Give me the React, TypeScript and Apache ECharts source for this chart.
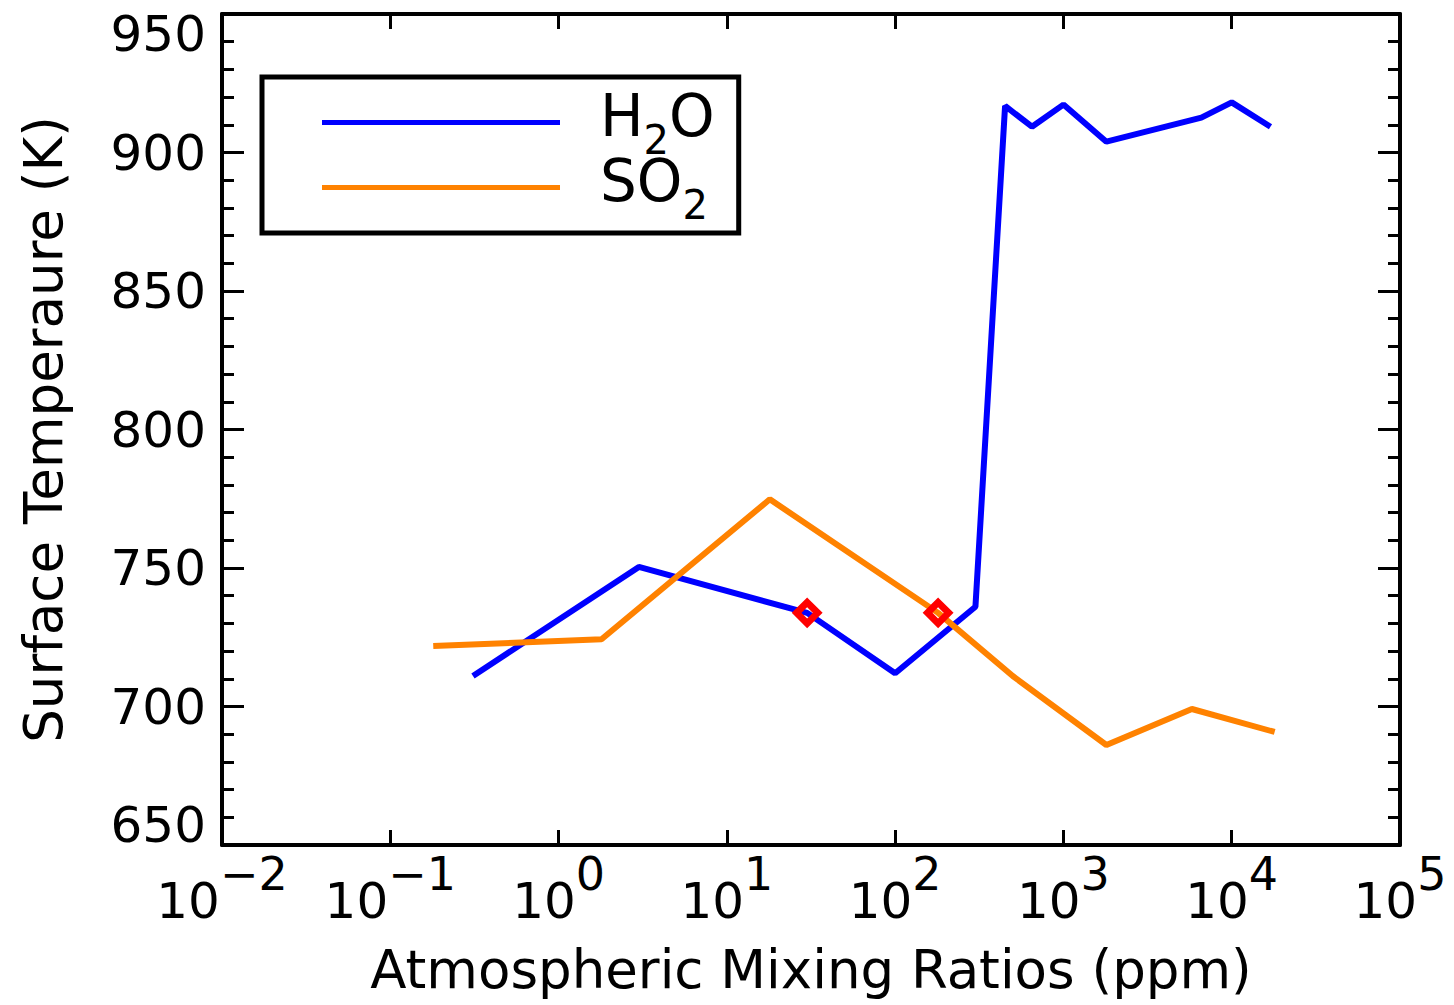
import React, { useEffect, useRef } from "react";
import * as echarts from "echarts";

// ---- data ----
const h2oX = [0.31, 3.0, 30, 100, 300, 450, 650, 1000, 1800, 6600, 10000, 17000];
const h2oY = [711, 750.4, 733.8, 712, 736, 916.8, 909.3, 917.3, 903.9, 912.6, 918.1, 909.3];

const so2X = [0.18, 1.8, 18, 180, 500, 1800, 5800, 18000];
const so2Y = [721.8, 724.3, 774.8, 733.8, 711, 686.1, 699.1, 690.8];

const markerX = [30, 180];
const markerY = [733.8, 733.8];

const seriesNames = ["H2O", "SO2"];
const xTitle = "Atmospheric Mixing Ratios (ppm)";
const yTitle = "Surface Temperaure (K)";
const yMin = 650;
const yMax = 950;
const yStep = 50;
const xMin = 0.01;
const xMax = 100000;

const FONT = "DejaVu Sans";

const pairs = (xs: number[], ys: number[]) => xs.map((x, i) => [x, ys[i]]);

export default function App() {
  const ref = useRef<HTMLDivElement>(null);

  useEffect(() => {
    document.body.style.margin = "0";
    if (!ref.current) return;
    const chart = echarts.init(ref.current, null, { renderer: "svg" });

    const xLabelFormatter = (v: number) => {
      const e = Math.round(Math.log10(v));
      const s = e < 0 ? "\u2212" + Math.abs(e) : String(e);
      return `{b|10}{s|${s}}`;
    };

    const legendFormatter = (name: string) =>
      name === "H2O" ? "{a|H}{s|2}{n|O}" : "{a|S}{n|O}{s|2}";

    const tickStyle = { color: "#000", width: 3 };
    const axisLineStyle = { color: "#000", width: 4 };

    const baseX = {
      type: "log",
      logBase: 10,
      min: xMin,
      max: xMax,
      interval: 1,
      splitLine: { show: false },
      minorTick: { show: false },
      axisLine: { show: true, onZero: false, lineStyle: axisLineStyle },
      axisTick: { show: true, inside: true, length: 15, lineStyle: tickStyle },
    };
    const baseY = {
      type: "value",
      min: yMin,
      max: yMax,
      interval: yStep,
      splitLine: { show: false },
      axisLine: { show: true, onZero: false, lineStyle: axisLineStyle },
      axisTick: { show: true, inside: true, length: 22, lineStyle: tickStyle },
      minorTick: { show: true, splitNumber: 5, length: 12, lineStyle: tickStyle },
    };

    const option = {
      animation: false,
      backgroundColor: "#fff",
      grid: { left: 222, right: 54, top: 14, bottom: 160 },
      legend: {
        data: seriesNames,
        orient: "vertical",
        left: 262,
        top: 77,
        padding: [10, 24, 8, 60],
        itemWidth: 238,
        itemHeight: 5,
        itemGap: -8,
        icon: "rect",
        borderColor: "#000",
        borderWidth: 5,
        borderRadius: 0,
        backgroundColor: "#fff",
        selectedMode: false,
        formatter: legendFormatter,
        textStyle: {
          color: "#000",
          fontFamily: FONT,
          fontSize: 58,
          rich: {
            a: { fontFamily: FONT, fontSize: 58, lineHeight: 50, height: 50, padding: [0, 0, 0, 35], verticalAlign: "top", color: "#000" },
            n: { fontFamily: FONT, fontSize: 58, lineHeight: 50, height: 50, verticalAlign: "top", color: "#000" },
            s: { fontFamily: FONT, fontSize: 40, lineHeight: 63, height: 28, verticalAlign: "bottom", color: "#000" },
          },
        },
      },
      xAxis: [
        {
          ...baseX,
          position: "bottom",
          name: xTitle,
          nameLocation: "middle",
          nameGap: 98,
          nameTextStyle: { fontFamily: FONT, fontSize: 53, color: "#000" },
          axisLabel: {
            show: true,
            margin: 6,
            color: "#000",
            fontFamily: FONT,
            formatter: xLabelFormatter,
            rich: {
              b: { fontFamily: FONT, fontSize: 50, lineHeight: 50, padding: [25, 0, 0, 0], verticalAlign: "top", color: "#000" },
              s: { fontFamily: FONT, fontSize: 46, lineHeight: 46, verticalAlign: "top", color: "#000" },
            },
          },
        },
        {
          ...baseX,
          position: "top",
          axisLabel: { show: false },
        },
      ],
      yAxis: [
        {
          ...baseY,
          position: "left",
          name: yTitle,
          nameLocation: "middle",
          nameGap: 152,
          nameRotate: 90,
          nameTextStyle: { fontFamily: FONT, fontSize: 53, color: "#000" },
          axisLabel: {
            show: true,
            margin: 16,
            color: "#000",
            fontFamily: FONT,
            fontSize: 50,
            lineHeight: 40,
            verticalAlignMaxLabel: "top",
            verticalAlignMinLabel: "bottom",
          },
        },
        {
          ...baseY,
          position: "right",
          axisLabel: { show: false },
        },
      ],
      series: [
        {
          name: seriesNames[0],
          type: "line",
          xAxisIndex: 0,
          yAxisIndex: 0,
          data: pairs(h2oX, h2oY),
          symbol: "none",
          color: "#0000ff",
          lineStyle: { color: "#0000ff", width: 6 },
          z: 3,
        },
        {
          name: seriesNames[1],
          type: "line",
          xAxisIndex: 0,
          yAxisIndex: 0,
          data: pairs(so2X, so2Y),
          symbol: "none",
          color: "#ff8200",
          lineStyle: { color: "#ff8200", width: 6 },
          z: 4,
        },
        {
          name: "markers",
          type: "scatter",
          xAxisIndex: 0,
          yAxisIndex: 0,
          data: pairs(markerX, markerY),
          symbol: "diamond",
          symbolSize: 21,
          itemStyle: { color: "none", borderColor: "#ff0000", borderWidth: 7, opacity: 1 },
          z: 6,
        },
      ],
    };

    chart.setOption(option as any);
    return () => chart.dispose();
  }, []);

  return (
    <div
      ref={ref}
      style={{ position: "fixed", left: 0, top: 0, width: 1454, height: 1005, background: "#fff" }}
    />
  );
}
